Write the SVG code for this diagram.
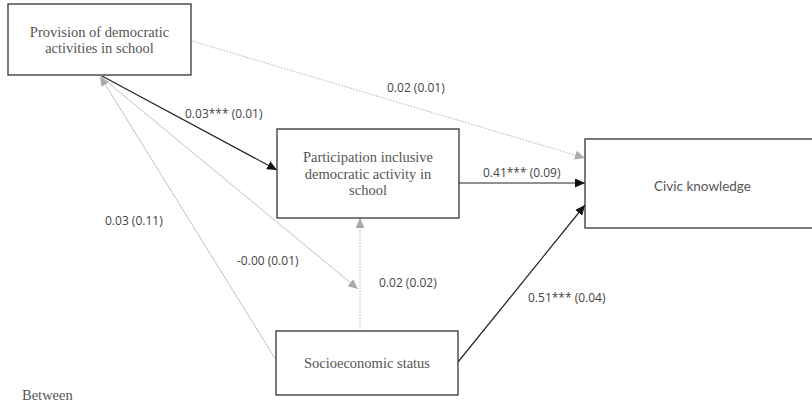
<svg xmlns="http://www.w3.org/2000/svg" width="812" height="404" viewBox="0 0 812 404">
<defs>
<style>
.box{fill:#fff;stroke:#333;stroke-width:1.3}
.nt{font-family:"Liberation Serif","DejaVu Serif",serif;font-size:14.5px;fill:#555;text-anchor:middle}
.ns{font-family:Lato,"Liberation Sans",sans-serif;font-size:13.5px;fill:#555;text-anchor:middle}
.lb{font-family:"Open Sans","Liberation Sans",sans-serif;font-size:12px;fill:#444}
.blk{fill:none;stroke:#222;stroke-width:1.2}
.gry{fill:none;stroke:#bbb;stroke-width:0.9}
.dot{fill:none;stroke:#aaa;stroke-width:0.9;stroke-dasharray:1.5,1.5}
</style>
<marker id="ab" markerUnits="userSpaceOnUse" markerWidth="11" markerHeight="9" refX="10" refY="4.5" orient="auto">
<path d="M0,0 L10,4.5 L0,9 z" fill="#111"/>
</marker>
<marker id="ag" markerUnits="userSpaceOnUse" markerWidth="11" markerHeight="9" refX="10" refY="4.5" orient="auto">
<path d="M0,0 L10,4.5 L0,9 z" fill="#aaa"/>
</marker>
</defs>
<rect width="812" height="404" fill="#fff"/>
<g id="connectors">
<path class="dot" d="M192,41 L585,158" marker-end="url(#ag)"/>
<path class="blk" d="M102,76 L277,170" marker-end="url(#ab)"/>
<path class="gry" d="M276,360 L100,76" marker-end="url(#ag)"/>
<path class="gry" d="M100,76 L358,289" marker-end="url(#ag)"/>
<path class="dot" d="M360,331 L360,218" marker-end="url(#ag)"/>
<path class="blk" d="M459,183 L585,183" marker-end="url(#ab)"/>
<path class="blk" d="M458,362 L585,205" marker-end="url(#ab)"/>
</g>
<g id="labels">
<text class="lb" x="387" y="92">0.02 (0.01)</text>
<text class="lb" x="185" y="118">0.03*** (0.01)</text>
<text class="lb" x="483" y="177">0.41*** (0.09)</text>
<text class="lb" x="105" y="225">0.03 (0.11)</text>
<text class="lb" x="237" y="265">-0.00 (0.01)</text>
<text class="lb" x="379" y="287">0.02 (0.02)</text>
<text class="lb" x="528" y="302">0.51*** (0.04)</text>
</g>
<g id="provision">
<rect class="box" x="8" y="4" width="183" height="71"/>
<text class="nt" x="99.5" y="37">Provision of democratic</text>
<text class="nt" x="99.5" y="53">activities in school</text>
</g>
<g id="participation">
<rect class="box" x="277" y="129" width="182" height="89"/>
<text class="nt" x="368" y="162">Participation inclusive</text>
<text class="nt" x="368" y="178.5">democratic activity in</text>
<text class="nt" x="368" y="195">school</text>
</g>
<g id="civic">
<rect class="box" x="585" y="139" width="240" height="89"/>
<text class="ns" x="702.5" y="191">Civic knowledge</text>
</g>
<g id="ses">
<rect class="box" x="276" y="331" width="182" height="64"/>
<text class="nt" x="367" y="368">Socioeconomic status</text>
</g>
<text class="nt" x="22" y="400" style="text-anchor:start">Between</text>
</svg>
